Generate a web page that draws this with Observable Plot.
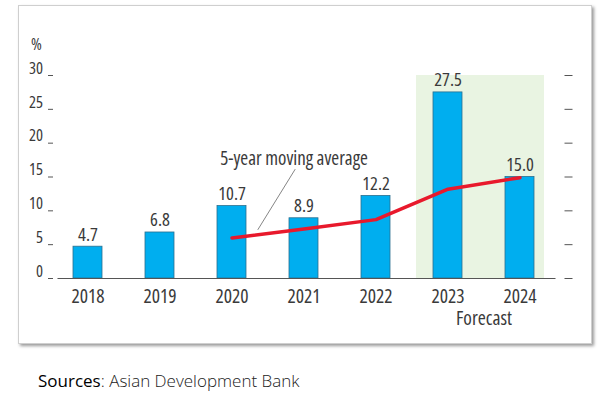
<!DOCTYPE html>
<html>
<head>
<meta charset="utf-8">
<script src="https://cdn.jsdelivr.net/npm/d3@7"></script>
<script src="https://cdn.jsdelivr.net/npm/@observablehq/plot@0.6"></script>
<style>
  html, body { margin: 0; padding: 0; background: #fff; width: 605px; height: 398px; overflow: hidden; }
  #frame { position: absolute; left: 18px; top: 5px; width: 572px; height: 337px;
           border: 1px solid #cfcfcf; box-shadow: 2px 2px 3px #9a9a9a; background: #fff; }
  #chart { position: absolute; left: 0; top: 0; }
  #chart svg text { font-stretch: 80%; }
  #caption { position: absolute; left: 38px; top: 369px; font-family: "Open Sans", sans-serif;
             font-size: 17px; color: #222; }
  #caption b { font-weight: 500; color: #000; }
  #caption span { font-weight: 300; }
</style>
</head>
<body>
<div id="frame"></div>
<div id="chart"></div>
<div id="caption"><b>Sources</b><span>: Asian Development Bank</span></div>
<script>
const years = ["2018", "2019", "2020", "2021", "2022", "2023", "2024"];
const values = [4.7, 6.8, 10.7, 8.9, 12.2, 27.5, 15.0];
const maYears = ["2020", "2021", "2022", "2023", "2024"];
const maValues = [6.0, 7.3, 8.7, 13.2, 14.9];
const forecastYears = ["2023", "2024"];
const yTicks = [0, 5, 10, 15, 20, 25, 30];
const yMax = 30;

const bars = years.map((y, i) => ({year: y, value: values[i]}));
const ma = maYears.map((y, i) => ({year: y, value: maValues[i]}));

const font = "'Open Sans', sans-serif";
const textColor = "#3a3a3a";

const plot = Plot.plot({
  width: 605,
  height: 345,
  marginTop: 75,
  marginBottom: 67,
  marginLeft: 51.5,
  marginRight: 49.5,
  style: {fontFamily: font, color: textColor, background: "transparent"},
  x: {type: "band", domain: years, paddingInner: 0.6, paddingOuter: 0.3, axis: null},
  y: {domain: [0, yMax], axis: null},
  marks: [
    // forecast shading
    Plot.barY([forecastYears[0]], {x: d => d, y: yMax, fill: "#e9f4e2", insetLeft: -17, insetRight: -22}),
    Plot.barY([forecastYears[1]], {x: d => d, y: yMax, fill: "#e9f4e2", insetLeft: -22, insetRight: -10}),
    // left ticks and labels
    Plot.axisY({ticks: yTicks, anchor: "left", label: null, tickSize: 5, tickFormat: () => "", stroke: "#555", dx: 1.5}),
    Plot.axisY({ticks: yTicks, anchor: "left", label: null, tickSize: 0, tickPadding: 9, dy: -7, fontSize: 16.5, fill: textColor}),
    // right ticks
    Plot.axisY({ticks: yTicks, anchor: "right", label: null, tickSize: 8, tickFormat: () => "", stroke: "#555", dx: 8}),
    Plot.text(["%"], {frameAnchor: "top-left", dx: -21, dy: -37, fontSize: 16.5, fill: textColor}),
    // bars
    Plot.barY(bars, {x: "year", y: "value", fill: "#00aeef", stroke: "#2b6f8e", strokeWidth: 0.8}),
    Plot.text(bars, {x: "year", y: "value", text: d => d.value.toFixed(1), lineAnchor: "bottom", dy: -6, fontSize: 18.5, fill: textColor}),
    // baseline
    Plot.ruleY([0], {stroke: "#555", strokeWidth: 1.2, insetLeft: 6}),
    // moving average
    Plot.line(ma, {x: "year", y: "value", stroke: "#e8192c", strokeWidth: 3.5, strokeLinecap: "round", strokeLinejoin: "round"}),
    // annotation
    Plot.arrow([0], {x1: () => "2020", y1: () => 1.03, x2: () => "2021", y2: () => 18.26,
      insetStart: 49.4, insetEnd: 17.1, headLength: 0, stroke: "#666", strokeWidth: 0.8}),
    Plot.text(["5-year moving average"], {x: () => "2021", y: () => 17.7, dx: -10, fontSize: 19, fill: textColor}),
    // x axis
    Plot.axisX({label: null, tickSize: 0, tickPadding: 11, fontSize: 19.5, fill: textColor}),
    Plot.text(["Forecast"], {x: () => "2023", frameAnchor: "bottom", dx: 36, dy: 46, fontSize: 19.5, fill: textColor})
  ]
});
document.getElementById("chart").appendChild(plot);
</script>
</body>
</html>
